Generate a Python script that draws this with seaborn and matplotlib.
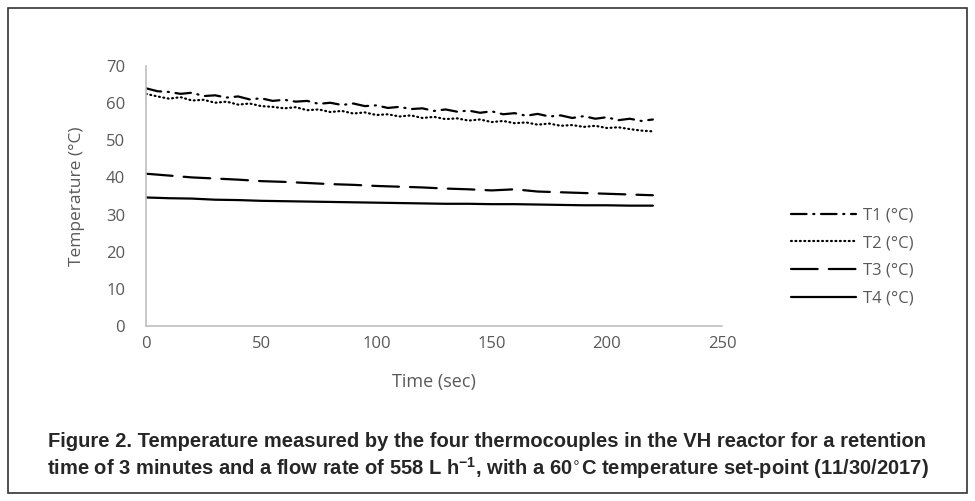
import numpy as np
import pandas as pd
import seaborn as sns
import matplotlib.pyplot as plt
from matplotlib.patches import Rectangle

# time axis (sec)
t_fast = list(range(0, 221, 5))
t_slow = list(range(0, 221, 10))

T1 = [64.0, 63.2, 63.0, 62.5, 62.8, 61.9, 62.1, 61.5, 61.8, 61.0, 61.3, 60.6, 60.9, 60.4, 60.6,
      59.8, 60.1, 59.5, 59.9, 59.2, 59.4, 58.7, 59.0, 58.4, 58.6, 57.9, 58.3, 57.7, 58.0, 57.4,
      57.8, 57.0, 57.3, 56.6, 57.1, 56.4, 56.7, 56.0, 56.5, 55.8, 56.2, 55.4, 55.8, 55.2, 55.6]
T2 = [62.5, 61.8, 61.2, 61.6, 60.7, 60.9, 60.1, 60.4, 59.6, 59.9, 59.2, 59.0, 58.6, 58.9, 58.1,
      58.3, 57.6, 57.9, 57.2, 57.5, 56.8, 57.0, 56.4, 56.7, 56.0, 56.3, 55.7, 55.9, 55.3, 55.6,
      54.9, 55.2, 54.6, 54.8, 54.2, 54.5, 53.9, 54.1, 53.6, 53.9, 53.3, 53.5, 53.0, 52.6, 52.4]
T3 = [41.0, 40.5, 40.0, 39.7, 39.4, 39.0, 38.8, 38.5, 38.2, 38.0, 37.7, 37.5, 37.3, 37.0, 36.8,
      36.5, 36.8, 36.2, 36.0, 35.8, 35.6, 35.4, 35.2]
T4 = [34.6, 34.4, 34.3, 34.0, 33.9, 33.7, 33.6, 33.5, 33.4, 33.3, 33.2, 33.1, 33.0, 32.9, 32.9,
      32.8, 32.8, 32.7, 32.6, 32.5, 32.5, 32.4, 32.4]

labels = ["T1 (°C)", "T2 (°C)", "T3 (°C)", "T4 (°C)"]
x_ticks = [0, 50, 100, 150, 200, 250]
y_ticks = [0, 10, 20, 30, 40, 50, 60, 70]

df = pd.concat([
    pd.DataFrame({"Time": t_fast, "Temp": T1, "Series": labels[0]}),
    pd.DataFrame({"Time": t_fast, "Temp": T2, "Series": labels[1]}),
    pd.DataFrame({"Time": t_slow, "Temp": T3, "Series": labels[2]}),
    pd.DataFrame({"Time": t_slow, "Temp": T4, "Series": labels[3]}),
], ignore_index=True)

sns.set_style("white")
plt.rcParams["font.family"] = ["Open Sans", "DejaVu Sans"]
plt.rcParams["lines.dash_capstyle"] = "round"

fig = plt.figure(figsize=(9.75, 5.01), dpi=100)
ax = fig.add_axes([0.1497, 0.3493, 0.5908, 0.519])

dashes = {labels[0]: (7, 3, 0.5, 3), labels[1]: (0.4, 1.6),
          labels[2]: (12, 5), labels[3]: ""}
sns.lineplot(data=df, x="Time", y="Temp", hue="Series", style="Series",
             palette=["black"] * 4, dashes=dashes, linewidth=1.6, ax=ax, legend=True)

ax.set_xlim(0, 250)
ax.set_ylim(0, 70)
ax.set_xticks(x_ticks)
ax.set_yticks(y_ticks)
gray = "#595959"
ax.tick_params(axis="both", length=0, labelsize=12, colors=gray)
ax.tick_params(axis="y", pad=15)
ax.tick_params(axis="x", pad=7)
for s in ["top", "right"]:
    ax.spines[s].set_visible(False)
for s in ["left", "bottom"]:
    ax.spines[s].set_color("#bfbfbf")
    ax.spines[s].set_linewidth(1.2)
ax.set_xlabel("Time (sec)", fontsize=13, color=gray, labelpad=15)
ax.set_ylabel("Temperature (°C)", fontsize=12.5, color=gray, labelpad=15)

handles, labs = ax.get_legend_handles_labels()
ax.legend(handles, labs, loc="center left", bbox_to_anchor=(0.796, 0.487),
          bbox_transform=fig.transFigure, frameon=False, fontsize=12,
          handlelength=3.9, labelspacing=0.7, handletextpad=0.4, labelcolor=gray)

cap = ("Figure 2. Temperature measured by the four thermocouples in the VH reactor for a retention\n"
       "time of 3 minutes and a flow rate of 558 L h$^{\\mathregular{-1}}$, with a 60$^{\\circ}$C "
       "temperature set-point (11/30/2017)")
fig.text(0.5, 0.04, cap, ha="center", va="bottom", fontsize=14.5, fontweight="bold",
         linespacing=1.2, family=["Liberation Sans", "DejaVu Sans"])

fig.patches.append(Rectangle((0.008, 0.016), 0.984, 0.968, transform=fig.transFigure,
                             fill=False, edgecolor="#333333", linewidth=1.2))

fig.savefig("out.png", dpi=100)
